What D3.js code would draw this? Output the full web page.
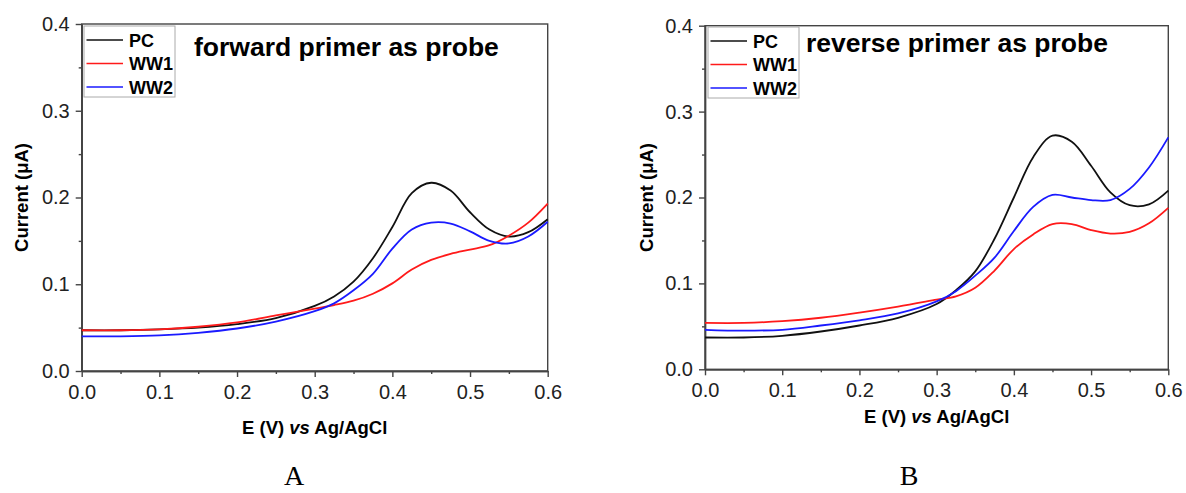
<!DOCTYPE html>
<html>
<head>
  <meta charset="utf-8" />
  <title>DPV curves</title>
  <style>
    body { margin: 0; background: #fff; }
    svg { display: block; font-family: "Liberation Sans", Arial, sans-serif; }
    .tick text { font-size: 20px; fill: #222; }
    .domain, .tick line { stroke: #444; stroke-width: 1.4px; }
    .curve { fill: none; stroke-width: 1.8px; }
  </style>
  <script src="https://cdnjs.cloudflare.com/ajax/libs/d3/7.8.5/d3.min.js"></script>
</head>
<body>
  <script>
    // potential (V) at which the curves were read
    var potential = [0, 0.05, 0.1, 0.15, 0.2, 0.25, 0.3, 0.325, 0.35, 0.375, 0.4, 0.425, 0.45, 0.475, 0.5, 0.525, 0.55, 0.575, 0.6];

    // panel A: forward primer as probe (current, uA)
    var pcA  = [0.047, 0.047, 0.048, 0.050, 0.054, 0.061, 0.075, 0.086, 0.103, 0.130, 0.166, 0.205, 0.217, 0.208, 0.183, 0.163, 0.155, 0.160, 0.175];
    var ww1A = [0.047, 0.047, 0.048, 0.051, 0.056, 0.064, 0.072, 0.076, 0.081, 0.089, 0.101, 0.117, 0.128, 0.135, 0.140, 0.145, 0.156, 0.171, 0.193];
    var ww2A = [0.040, 0.040, 0.041, 0.044, 0.049, 0.057, 0.069, 0.078, 0.093, 0.112, 0.141, 0.163, 0.171, 0.170, 0.161, 0.150, 0.147, 0.155, 0.172];

    // panel B: reverse primer as probe
    var pcB  = [0.037, 0.037, 0.039, 0.044, 0.051, 0.060, 0.076, 0.092, 0.114, 0.152, 0.200, 0.247, 0.272, 0.265, 0.237, 0.206, 0.191, 0.192, 0.208];
    var ww1B = [0.054, 0.054, 0.056, 0.060, 0.066, 0.073, 0.081, 0.085, 0.095, 0.115, 0.140, 0.157, 0.169, 0.169, 0.162, 0.158, 0.160, 0.170, 0.188];
    var ww2B = [0.046, 0.045, 0.046, 0.051, 0.057, 0.065, 0.079, 0.091, 0.109, 0.130, 0.161, 0.189, 0.203, 0.200, 0.197, 0.197, 0.210, 0.235, 0.270];

    var seriesNames = ['PC', 'WW1', 'WW2'];
    var seriesColors = ['#111', '#ff1a1a', '#1a1aff'];
    var xTicks = [0, 0.1, 0.2, 0.3, 0.4, 0.5, 0.6];
    var xMinor = [0.05, 0.15, 0.25, 0.35, 0.45, 0.55];
    var yTicks = [0, 0.1, 0.2, 0.3, 0.4];
    var yMinor = [0.05, 0.15, 0.25, 0.35];

    var panels = [
      { x0: 81.7, x1: 547.7, y0: 371, y1: 24, data: [pcA, ww1A, ww2A],
        title: 'forward primer as probe', titleX: 194, titleY: 56,
        legX: 84, legY: 26, ylabX: 22, xlabY: 434, letter: 'A', letterX: 294 },
      { x0: 705, x1: 1168.3, y0: 369.3, y1: 25.7, data: [pcB, ww1B, ww2B],
        title: 'reverse primer as probe', titleX: 806, titleY: 52,
        legX: 708, legY: 27, ylabX: 647, xlabY: 423, letter: 'B', letterX: 909 }
    ];

    var svg = d3.select('body').append('svg')
      .attr('width', 1186)
      .attr('height', 493);

    panels.forEach(function (p) {
      var x = d3.scaleLinear().domain([0, 0.6]).range([p.x0, p.x1]);
      var y = d3.scaleLinear().domain([0, 0.4]).range([p.y0, p.y1]);
      var g = svg.append('g');

      // frame
      g.append('rect')
        .attr('x', p.x0).attr('y', p.y1)
        .attr('width', p.x1 - p.x0).attr('height', p.y0 - p.y1)
        .attr('fill', 'none').attr('stroke', '#444').attr('stroke-width', 1.4);

      g.append('g')
        .attr('transform', 'translate(0,' + p.y0 + ')')
        .call(d3.axisBottom(x).tickValues(xTicks).tickFormat(d3.format('.1f'))
          .tickSize(6).tickSizeOuter(0).tickPadding(8));
      g.append('g')
        .attr('transform', 'translate(0,' + p.y0 + ')')
        .call(d3.axisBottom(x).tickValues(xMinor).tickFormat('').tickSize(3).tickSizeOuter(0));
      g.append('g')
        .attr('transform', 'translate(' + p.x0 + ',0)')
        .call(d3.axisLeft(y).tickValues(yTicks).tickFormat(d3.format('.1f'))
          .tickSize(6).tickSizeOuter(0).tickPadding(6));
      g.append('g')
        .attr('transform', 'translate(' + p.x0 + ',0)')
        .call(d3.axisLeft(y).tickValues(yMinor).tickFormat('').tickSize(3).tickSizeOuter(0));

      var line = d3.line()
        .x(function (d, i) { return x(potential[i]); })
        .y(function (d) { return y(d); })
        .curve(d3.curveCatmullRom.alpha(0.5));

      p.data.forEach(function (s, k) {
        g.append('path')
          .attr('class', 'curve')
          .attr('stroke', seriesColors[k])
          .attr('d', line(s));
      });

      // legend
      var leg = g.append('g').attr('transform', 'translate(' + p.legX + ',' + p.legY + ')');
      leg.append('rect')
        .attr('width', 91).attr('height', 71)
        .attr('fill', '#fff').attr('stroke', '#aaa').attr('stroke-width', 1);
      seriesNames.forEach(function (name, k) {
        var ly = 14 + k * 23.5;
        leg.append('line')
          .attr('x1', 2.5).attr('x2', 39).attr('y1', ly).attr('y2', ly)
          .attr('stroke', seriesColors[k]).attr('stroke-width', 1.7);
        leg.append('text')
          .attr('x', 45).attr('y', ly + 6.5)
          .attr('font-size', 18).attr('font-weight', 'bold')
          .text(name);
      });

      g.append('text')
        .attr('x', p.titleX).attr('y', p.titleY)
        .attr('font-size', 26.5).attr('font-weight', 'bold')
        .text(p.title);

      // axis titles
      g.append('text')
        .attr('transform', 'translate(' + p.ylabX + ',' + ((p.y0 + p.y1) / 2) + ') rotate(-90)')
        .attr('text-anchor', 'middle').attr('dy', '0.35em')
        .attr('font-size', 18.5).attr('font-weight', 'bold')
        .text('Current (\u03BCA)');

      var xl = g.append('text')
        .attr('x', (p.x0 + p.x1) / 2).attr('y', p.xlabY)
        .attr('text-anchor', 'middle')
        .attr('font-size', 18.5).attr('font-weight', 'bold');
      xl.append('tspan').text('E (V) ');
      xl.append('tspan').attr('font-style', 'italic').text('vs');
      xl.append('tspan').text(' Ag/AgCl');

      g.append('text')
        .attr('x', p.letterX).attr('y', 485)
        .attr('text-anchor', 'middle')
        .attr('font-family', '"Liberation Serif", "Times New Roman", serif')
        .attr('font-size', 28)
        .text(p.letter);
    });
  </script>
</body>
</html>
